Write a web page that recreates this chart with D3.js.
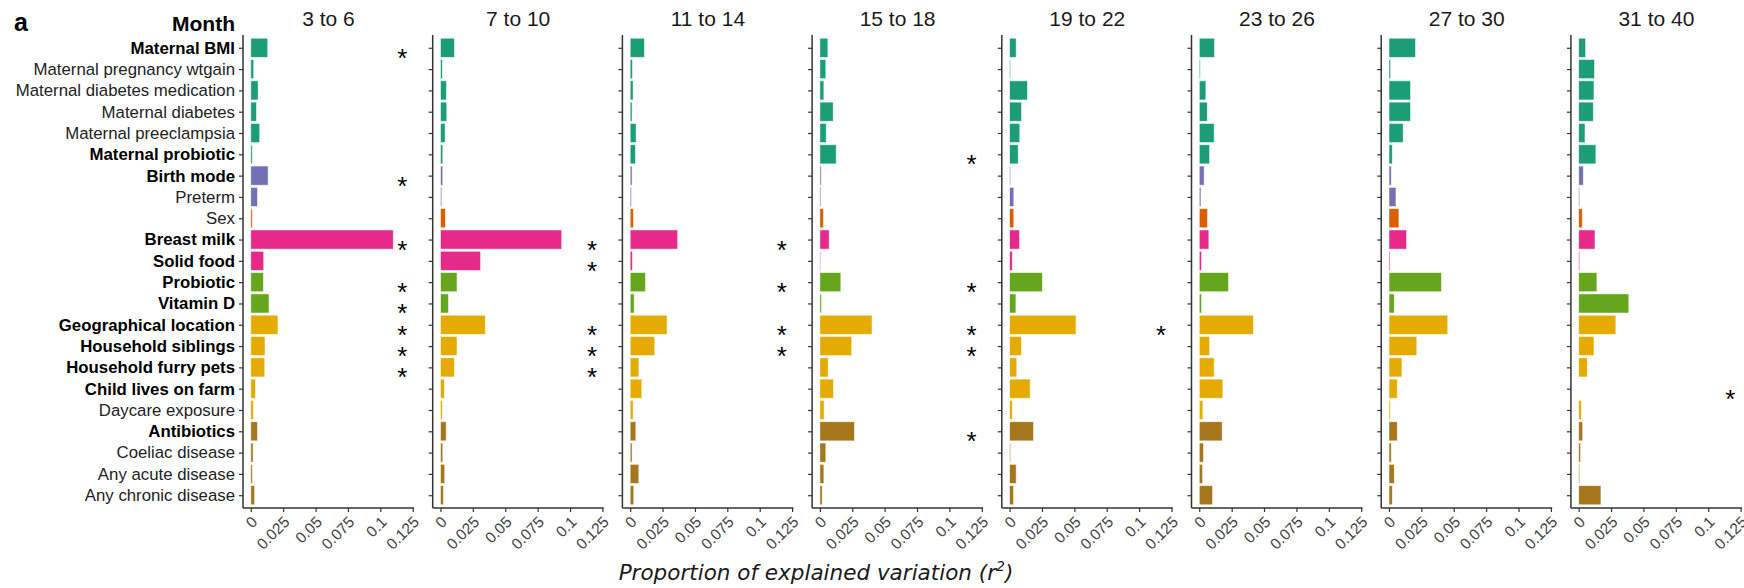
<!DOCTYPE html>
<html>
<head>
<meta charset="utf-8">
<script src="https://cdn.jsdelivr.net/npm/d3@7"></script>
<style>
  body { margin: 0; background: #fff; }
  svg { display: block; font-family: "Liberation Sans", Arial, sans-serif; }
</style>
</head>
<body>
<div id="chart"></div>
<script>
// rows of every panel, top to bottom
var factors = ["Maternal BMI", "Maternal pregnancy wtgain", "Maternal diabetes medication",
  "Maternal diabetes", "Maternal preeclampsia", "Maternal probiotic", "Birth mode", "Preterm",
  "Sex", "Breast milk", "Solid food", "Probiotic", "Vitamin D", "Geographical location",
  "Household siblings", "Household furry pets", "Child lives on farm", "Daycare exposure",
  "Antibiotics", "Coeliac disease", "Any acute disease", "Any chronic disease"];

// colour group of each row
var groups = ["maternal", "maternal", "maternal", "maternal", "maternal", "maternal",
  "birth", "birth", "sex", "diet", "diet", "supplement", "supplement",
  "environment", "environment", "environment", "environment", "environment",
  "health", "health", "health", "health"];

// labels printed in bold
var boldFactors = ["Maternal BMI", "Maternal probiotic", "Birth mode", "Breast milk", "Solid food",
  "Probiotic", "Vitamin D", "Geographical location", "Household siblings",
  "Household furry pets", "Child lives on farm", "Antibiotics"];

var months = ["3 to 6", "7 to 10", "11 to 14", "15 to 18", "19 to 22", "23 to 26", "27 to 30", "31 to 40"];

// r2 per row, one array per month window
var r2_3to6   = [0.0131, 0.0023, 0.0057, 0.0044, 0.0069, 0.0012, 0.0134, 0.0052, 0.0012, 0.110, 0.0100,
  0.0098, 0.0141, 0.0210, 0.0110, 0.0108, 0.0036, 0.0021, 0.0052, 0.0018, 0.0013, 0.0030];
var r2_7to10  = [0.0108, 0.0015, 0.0046, 0.0049, 0.0036, 0.0018, 0.0018, 0.0010, 0.0038, 0.0936, 0.0310,
  0.0128, 0.0062, 0.0346, 0.0128, 0.0108, 0.0031, 0.0015, 0.0044, 0.0018, 0.0033, 0.0023];
var r2_11to14 = [0.0110, 0.0018, 0.0023, 0.0015, 0.0046, 0.0041, 0.0015, 0.0010, 0.0026, 0.0367, 0.0018,
  0.0118, 0.0031, 0.0285, 0.0190, 0.0067, 0.0090, 0.0023, 0.0044, 0.0015, 0.0067, 0.0028];
var r2_15to18 = [0.0062, 0.0046, 0.0031, 0.0103, 0.0049, 0.0126, 0.0010, 0.0008, 0.0028, 0.0072, 0.0005,
  0.0162, 0.0013, 0.0403, 0.0246, 0.0064, 0.0105, 0.0033, 0.0267, 0.0046, 0.0031, 0.0018];
var r2_19to22 = [0.0051, 0.0008, 0.0138, 0.0092, 0.0079, 0.0067, 0.0008, 0.0033, 0.0033, 0.0077, 0.0021,
  0.0254, 0.0049, 0.0513, 0.0092, 0.0056, 0.0159, 0.0021, 0.0185, 0.0008, 0.0051, 0.0031];
var r2_23to26 = [0.0118, 0.0008, 0.0051, 0.0062, 0.0115, 0.0080, 0.0038, 0.0013, 0.0064, 0.0074, 0.0018,
  0.0226, 0.0018, 0.0418, 0.0080, 0.0115, 0.0182, 0.0028, 0.0177, 0.0033, 0.0026, 0.0103];
var r2_27to30 = [0.0205, 0.0013, 0.0167, 0.0167, 0.0110, 0.0026, 0.0018, 0.0054, 0.0077, 0.0136, 0.0008,
  0.0405, 0.0041, 0.0454, 0.0215, 0.0100, 0.0064, 0.0010, 0.0064, 0.0018, 0.0041, 0.0026];
var r2_31to40 = [0.0054, 0.0123, 0.0118, 0.0113, 0.0049, 0.0133, 0.0036, 0.0008, 0.0028, 0.0126, 0.0008,
  0.0141, 0.0387, 0.0287, 0.0118, 0.0067, 0, 0.0021, 0.0031, 0.0015, 0.0008, 0.0172];

// rows marked with a star in each window
var sig_3to6   = ["Maternal BMI", "Birth mode", "Breast milk", "Probiotic", "Vitamin D",
  "Geographical location", "Household siblings", "Household furry pets"];
var sig_7to10  = ["Breast milk", "Solid food", "Geographical location", "Household siblings", "Household furry pets"];
var sig_11to14 = ["Breast milk", "Probiotic", "Geographical location", "Household siblings"];
var sig_15to18 = ["Maternal probiotic", "Probiotic", "Geographical location", "Household siblings", "Antibiotics"];
var sig_19to22 = ["Geographical location"];
var sig_23to26 = [];
var sig_27to30 = [];
var sig_31to40 = ["Child lives on farm"];

var xTicks = [0, 0.025, 0.05, 0.075, 0.1, 0.125];

var values = [r2_3to6, r2_7to10, r2_11to14, r2_15to18, r2_19to22, r2_23to26, r2_27to30, r2_31to40];
var stars = [sig_3to6, sig_7to10, sig_11to14, sig_15to18, sig_19to22, sig_23to26, sig_27to30, sig_31to40];

var width = 1744, height = 588;
var panelLeft = 243, panelStep = 189.7, panelW = 171;
var plotTop = 35, plotBottom = 508;
var starAt = 0.117;

var color = d3.scaleOrdinal()
  .domain(["maternal", "birth", "sex", "diet", "supplement", "environment", "health"])
  .range(["#1B9E77", "#7570B3", "#D95F02", "#E7298A", "#66A61E", "#E6AB02", "#A6761D"]);

var y = d3.scalePoint()
  .domain(factors)
  .range([plotTop, plotBottom])
  .padding(0.6);
var barH = y.step() * 0.9;

var svg = d3.select("#chart")
  .append("svg")
    .attr("width", width)
    .attr("height", height);

svg.append("text")
  .attr("x", 14).attr("y", 31)
  .attr("font-size", 25).attr("font-weight", "bold")
  .text("a");

svg.append("text")
  .attr("x", 235).attr("y", 31)
  .attr("text-anchor", "end")
  .attr("font-size", 21).attr("font-weight", "bold")
  .text("Month");

months.forEach(function(m, i) {
  var x0 = panelLeft + i * panelStep;
  var x = d3.scaleLinear()
    .domain([-0.006, 0.126])
    .range([x0, x0 + panelW]);

  var g = svg.append("g");

  // strip title
  g.append("text")
    .attr("x", x0 + panelW / 2).attr("y", 26)
    .attr("text-anchor", "middle")
    .attr("font-size", 21).attr("fill", "#1a1a1a")
    .text(m);

  // bars
  g.append("g")
    .selectAll("rect")
    .data(factors.map(function(f, j) { return {f: f, grp: groups[j], v: values[i][j]}; })
      .filter(function(d) { return d.v > 0; }))
    .enter()
    .append("rect")
      .attr("x", x(0))
      .attr("y", function(d) { return y(d.f) - barH / 2; })
      .attr("width", function(d) { return x(d.v) - x(0); })
      .attr("height", barH)
      .attr("fill", function(d) { return color(d.grp); })
      .attr("stroke", "#fff")
      .attr("stroke-opacity", 0.7)
      .attr("stroke-width", 0.8);

  // stars
  g.append("g")
    .selectAll("text")
    .data(stars[i])
    .enter()
    .append("text")
      .attr("x", x(starAt))
      .attr("y", function(d) { return y(d) + 19; })
      .attr("text-anchor", "middle")
      .attr("font-size", 26)
      .text("*");

  // y axis
  var ya = g.append("g")
    .attr("transform", "translate(" + x0 + ",0)")
    .call(d3.axisLeft(y).tickSize(4).tickPadding(4).tickSizeOuter(0));
  ya.select(".domain").attr("stroke", "#333").attr("stroke-width", 1.5)
    .attr("d", "M0," + plotTop + "V" + plotBottom);
  ya.selectAll(".tick line").attr("stroke", "#333").attr("stroke-width", 1.2);
  if (i === 0) {
    ya.selectAll(".tick text")
      .attr("font-size", 16.8)
      .attr("font-family", "'Liberation Sans', Arial, sans-serif")
      .attr("font-weight", function(d) { return boldFactors.indexOf(d) >= 0 ? "bold" : "normal"; })
      .attr("fill", function(d) { return boldFactors.indexOf(d) >= 0 ? "#000" : "#222"; });
  } else {
    ya.selectAll(".tick text").remove();
  }

  // x axis
  var xa = g.append("g")
    .attr("transform", "translate(0," + plotBottom + ")")
    .call(d3.axisBottom(x).tickValues(xTicks).tickFormat(function(d) { return String(d); })
      .tickSize(4).tickSizeOuter(0));
  xa.select(".domain").attr("stroke", "#333").attr("stroke-width", 1.5)
    .attr("d", "M" + x0 + ",0H" + (x0 + panelW));
  xa.selectAll(".tick line").attr("stroke", "#333").attr("stroke-width", 1.2);
  xa.selectAll(".tick text")
    .attr("font-size", 15.5)
    .attr("font-family", "'Liberation Sans', Arial, sans-serif")
    .attr("fill", "#444")
    .attr("text-anchor", "end")
    .attr("dy", null)
    .attr("y", null)
    .attr("transform", "translate(7,15) rotate(-45)");
});

// x axis title
var title = svg.append("text")
  .attr("x", 816).attr("y", 580)
  .attr("text-anchor", "middle")
  .attr("font-family", "'DejaVu Sans', Verdana, sans-serif")
  .attr("font-style", "italic")
  .attr("font-size", 21.5)
  .attr("fill", "#1a1a1a");
title.append("tspan").text("Proportion of explained variation (r");
title.append("tspan").attr("dy", -9).attr("font-size", 14).text("2");
title.append("tspan").attr("dy", 9).text(")");
</script>
</body>
</html>
